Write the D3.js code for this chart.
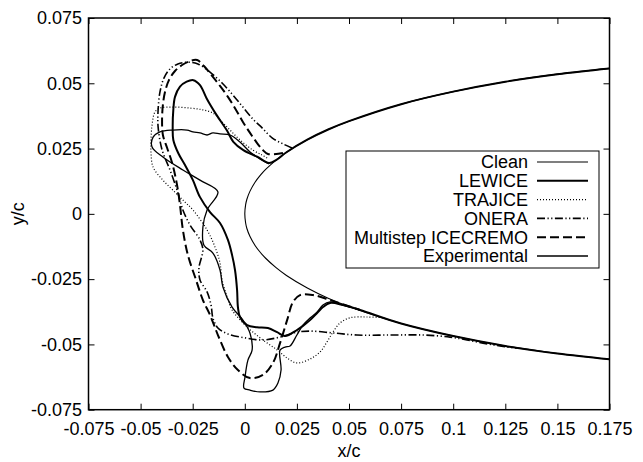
<!DOCTYPE html>
<html>
<head>
<meta charset="utf-8">
<script src="https://cdn.jsdelivr.net/npm/d3@7"></script>
<style>
  body { margin: 0; background: #fff; }
  text { font-family: "Liberation Sans", Arial, Helvetica, sans-serif; fill: #000; }
</style>
</head>
<body>
<script>
// axis ticks
var xTicks = [-0.075, -0.05, -0.025, 0, 0.025, 0.05, 0.075, 0.1, 0.125, 0.15, 0.175];
var xTickLabels = ["-0.075", "-0.05", "-0.025", "0", "0.025", "0.05", "0.075", "0.1", "0.125", "0.15", "0.175"];
var yTicks = [-0.075, -0.05, -0.025, 0, 0.025, 0.05, 0.075];
var yTickLabels = ["-0.075", "-0.05", "-0.025", "0", "0.025", "0.05", "0.075"];

// clean airfoil, upper surface then lower surface (x/c, y/c)
var cleanX = [0.175, 0.15, 0.125, 0.1, 0.075, 0.05, 0.04, 0.03, 0.02, 0.015, 0.01, 0.0075, 0.005, 0.0025, 0.001, 0.0004, 0,
              0.0004, 0.001, 0.0025, 0.005, 0.0075, 0.01, 0.015, 0.02, 0.03, 0.04, 0.05, 0.075, 0.1, 0.125, 0.15, 0.175];
var cleanY = [0.0557, 0.0535, 0.0506, 0.0468, 0.0420, 0.0355, 0.0323, 0.0284, 0.0236, 0.0206, 0.0170, 0.0148, 0.0122, 0.0087, 0.0056, 0.0035, 0,
              -0.0035, -0.0056, -0.0087, -0.0122, -0.0148, -0.0170, -0.0206, -0.0236, -0.0284, -0.0323, -0.0355, -0.0420, -0.0468, -0.0506, -0.0535, -0.0557];

var lewiceX = [0.175, 0.15, 0.125, 0.1, 0.075, 0.05, 0.04, 0.03, 0.02, 0.015, 0.0116, 0.0059, -0.0007, -0.0055, -0.0087, -0.0135, -0.0183, -0.0215, -0.0247, -0.0279,
               -0.0311, -0.0335, -0.0343, -0.0346, -0.0343, -0.0319, -0.0287, -0.0249, -0.0215, -0.0167, -0.0119, -0.0081, -0.0061, -0.0047, -0.0037,
               -0.0033, -0.0023, 0.0011, 0.0059, 0.0111, 0.0155, 0.0193, 0.0250, 0.0279, 0.0313, 0.0347, 0.0375, 0.0409, 0.0471, 0.0553,
               0.075, 0.1, 0.125, 0.15, 0.175];
var lewiceY = [0.0557, 0.0535, 0.0506, 0.0468, 0.0420, 0.0355, 0.0323, 0.0284, 0.0236, 0.0206, 0.0195, 0.0219, 0.0244, 0.0276, 0.0321, 0.0378, 0.0442, 0.0493, 0.0512, 0.0506,
               0.0487, 0.0448, 0.0398, 0.0334, 0.0283, 0.0232, 0.0187, 0.0129, 0.0064, 0.0007, -0.0035, -0.0100, -0.0158, -0.0215, -0.0292,
               -0.0357, -0.0395, -0.0426, -0.0434, -0.0437, -0.0453, -0.0468, -0.0445, -0.0429, -0.0407, -0.0380, -0.0357, -0.0341, -0.0349, -0.0368,
               -0.0420, -0.0468, -0.0506, -0.0535, -0.0557];

var trajiceX = [0.0107, 0.0083, 0.0039, -0.0023, -0.0071, -0.0109, -0.0153, -0.0201, -0.0263, -0.0345, -0.0407, -0.0431, -0.0445, -0.0450, -0.0450,
                -0.0440, -0.0393, -0.0345, -0.0287, -0.0249, -0.0181, -0.0143, -0.0119, -0.0109, -0.0085, -0.0061, 0.0011, 0.0087, 0.0155,
                0.0203, 0.0250, 0.0313, 0.0361, 0.0394, 0.0423, 0.0457, 0.0505, 0.0586, 0.0673];
var trajiceY = [0.0214, 0.0225, 0.0244, 0.0283, 0.0321, 0.0352, 0.0386, 0.0398, 0.0405, 0.0409, 0.0405, 0.0390, 0.0340, 0.0283, 0.0233,
                0.0179, 0.0129, 0.0091, 0.0045, 0.0015, -0.0062, -0.0127, -0.0188, -0.0253, -0.0318, -0.0368, -0.0433, -0.0483, -0.0521,
                -0.0552, -0.0571, -0.0556, -0.0529, -0.0491, -0.0453, -0.0418, -0.0398, -0.0395, -0.0398];

var oneraX = [0.0226, 0.0183, 0.0131, 0.0083, 0.0039, -0.0009, -0.0057, -0.0109, -0.0167, -0.0225, -0.0273, -0.0321, -0.0359, -0.0388, -0.0407,
              -0.0416, -0.0416, -0.0397, -0.0359, -0.0325, -0.0297, -0.0263, -0.0215, -0.0201, -0.0220, -0.0215, -0.0181, -0.0162, -0.0153,
              -0.0129, -0.0081, 0.0001, 0.0087, 0.0169, 0.0250, 0.0313, 0.0423, 0.0538, 0.0697, 0.0855, 0.0985, 0.1066, 0.1143, 0.1258, 0.1306];
var oneraY = [0.0252, 0.0268, 0.0291, 0.0329, 0.0363, 0.0409, 0.0455, 0.0501, 0.0543, 0.0574, 0.0581, 0.0574, 0.0555, 0.0520, 0.0467,
              0.0398, 0.0333, 0.0245, 0.0168, 0.0091, 0.0015, -0.0043, -0.0100, -0.0138, -0.0207, -0.0253, -0.0299, -0.0349, -0.0399,
              -0.0437, -0.0460, -0.0475, -0.0483, -0.0472, -0.0453, -0.0449, -0.0456, -0.0464, -0.0464, -0.0464, -0.0472, -0.0483, -0.0495, -0.0510, -0.0514];

var icecremoX = [0.0183, 0.0111, 0.0087, 0.0059, 0.0025, -0.0009, -0.0042, -0.0081, -0.0119, -0.0157, -0.0196, -0.0229, -0.0263, -0.0301, -0.0335,
                 -0.0364, -0.0383, -0.0393, -0.0397, -0.0393, -0.0373, -0.0349, -0.0325, -0.0311, -0.0297, -0.0273, -0.0234, -0.0201, -0.0167,
                 -0.0129, -0.0081, -0.0033, 0.0025, 0.0087, 0.0135, 0.0169, 0.0203, 0.0231, 0.0265, 0.0327, 0.0409, 0.0481, 0.0553];
var icecremoY = [0.0233, 0.0229, 0.0244, 0.0271, 0.0310, 0.0352, 0.0398, 0.0448, 0.0490, 0.0528, 0.0566, 0.0589, 0.0585, 0.0570, 0.0547,
                 0.0512, 0.0467, 0.0417, 0.0360, 0.0302, 0.0253, 0.0196, 0.0110, 0.0034, -0.0062, -0.0158, -0.0253, -0.0330, -0.0387,
                 -0.0464, -0.0548, -0.0598, -0.0629, -0.0617, -0.0571, -0.0495, -0.0407, -0.0338, -0.0311, -0.0311, -0.0330, -0.0349, -0.0368];

var experimentalX = [0.0116, 0.0073, 0.0025, -0.0023, -0.0071, -0.0119, -0.0153, -0.0181, -0.0215, -0.0249, -0.0277, -0.0345, -0.0407, -0.0440,
                     -0.0445, -0.0393, -0.0297, -0.0215, -0.0129, -0.0181, -0.0201, -0.0196, -0.0153, -0.0119, -0.0105, -0.0061, -0.0009,
                     0.0025, 0.0035, 0.0015, 0.0001, -0.0004, 0.0025, 0.0073, 0.0135, 0.0159, 0.0174, 0.0169, 0.0193, 0.0217, 0.0250,
                     0.0279, 0.0313, 0.0347, 0.0375, 0.0409, 0.0481, 0.0553];
var experimentalY = [0.0191, 0.0210, 0.0237, 0.0275, 0.0302, 0.0306, 0.0310, 0.0302, 0.0310, 0.0314, 0.0321, 0.0321, 0.0314, 0.0294,
                     0.0256, 0.0218, 0.0168, 0.0129, 0.0084, 0.0015, -0.0051, -0.0120, -0.0150, -0.0215, -0.0280, -0.0357, -0.0407,
                     -0.0457, -0.0522, -0.0560, -0.0625, -0.0667, -0.0675, -0.0682, -0.0675, -0.0648, -0.0598, -0.0522, -0.0510, -0.0506, -0.0464,
                     -0.0426, -0.0399, -0.0376, -0.0349, -0.0337, -0.0352, -0.0368];

var seriesNames = ["Clean", "LEWICE", "TRAJICE", "ONERA", "Multistep ICECREMO", "Experimental"];

var series = [
  { name: seriesNames[0], xs: cleanX, ys: cleanY, width: 1.1, dash: null },
  { name: seriesNames[1], xs: lewiceX, ys: lewiceY, width: 2, dash: null },
  { name: seriesNames[2], xs: trajiceX, ys: trajiceY, width: 1.2, dash: "1,2" },
  { name: seriesNames[3], xs: oneraX, ys: oneraY, width: 1.6, dash: "8,2.5,1.2,2.5,1.2,2.5" },
  { name: seriesNames[4], xs: icecremoX, ys: icecremoY, width: 2, dash: "9,4" },
  { name: seriesNames[5], xs: experimentalX, ys: experimentalY, width: 1.3, dash: null }
];

var w = 643, h = 462;
var plotLeft = 88.5, plotRight = 609.5, plotTop = 18, plotBottom = 409.7;

var svg = d3.select("body").append("svg")
  .attr("width", w).attr("height", h);

var xScale = d3.scaleLinear().domain([-0.075, 0.175]).range([plotLeft, plotRight]);
var yScale = d3.scaleLinear().domain([-0.075, 0.075]).range([plotBottom, plotTop]);

var line = d3.line()
  .x(function(d) { return xScale(d[0]); })
  .y(function(d) { return yScale(d[1]); })
  .curve(d3.curveCatmullRom.alpha(0.5));

var plot = svg.append("g");
series.forEach(function(s) {
  var pts = s.xs.map(function(x, i) { return [x, s.ys[i]]; });
  plot.append("path")
    .datum(pts)
    .attr("d", line)
    .attr("fill", "none")
    .attr("stroke", "#000")
    .attr("stroke-width", s.width)
    .attr("stroke-dasharray", s.dash)
    .attr("stroke-linejoin", "round");
});

//axes, ticks point inward on all four sides
var tickLen = 6;
var xAxis = d3.axisBottom(xScale).tickValues(xTicks)
  .tickFormat(function(d, i) { return xTickLabels[i]; })
  .tickSize(-tickLen).tickPadding(12.5);
var yAxis = d3.axisLeft(yScale).tickValues(yTicks)
  .tickFormat(function(d, i) { return yTickLabels[i]; })
  .tickSize(-tickLen).tickPadding(6.5);

svg.append("g").attr("transform", "translate(0," + plotBottom + ")").call(xAxis);
svg.append("g").attr("transform", "translate(0," + plotTop + ")")
  .call(d3.axisTop(xScale).tickValues(xTicks).tickFormat("").tickSize(-tickLen));
svg.append("g").attr("transform", "translate(" + plotLeft + ",0)").call(yAxis);
svg.append("g").attr("transform", "translate(" + plotRight + ",0)")
  .call(d3.axisRight(yScale).tickValues(yTicks).tickFormat("").tickSize(-tickLen));

svg.selectAll(".domain").remove();
svg.selectAll(".tick line").attr("stroke", "#000").attr("stroke-width", 1);
svg.selectAll(".tick text")
  .style("font-family", "'Liberation Sans', Arial, sans-serif")
  .style("font-size", "18px").attr("fill", "#000");

svg.append("rect")
  .attr("x", plotLeft).attr("y", plotTop)
  .attr("width", plotRight - plotLeft).attr("height", plotBottom - plotTop)
  .attr("fill", "none").attr("stroke", "#000").attr("stroke-width", 1.5);

// axis titles
svg.append("text")
  .attr("x", (plotLeft + plotRight) / 2).attr("y", 457)
  .attr("text-anchor", "middle")
  .style("font-size", "18px")
  .text("x/c");

svg.append("text")
  .attr("transform", "translate(24," + ((plotTop + plotBottom) / 2) + ") rotate(-90)")
  .attr("text-anchor", "middle")
  .style("font-size", "18px")
  .text("y/c");

// legend
var legend = svg.append("g");
legend.append("rect")
  .attr("x", 346).attr("y", 151)
  .attr("width", 253).attr("height", 117)
  .attr("fill", "#fff").attr("stroke", "#000").attr("stroke-width", 1);

series.forEach(function(s, i) {
  var yy = 162 + i * 18.8;
  legend.append("text")
    .attr("x", 528).attr("y", yy).attr("dy", "0.35em")
    .attr("text-anchor", "end")
    .style("font-size", "18px")
    .text(s.name);
  legend.append("line")
    .attr("x1", 537).attr("x2", 588)
    .attr("y1", yy).attr("y2", yy)
    .attr("stroke", "#000")
    .attr("stroke-width", s.width)
    .attr("stroke-dasharray", s.dash);
});
</script>
</body>
</html>
